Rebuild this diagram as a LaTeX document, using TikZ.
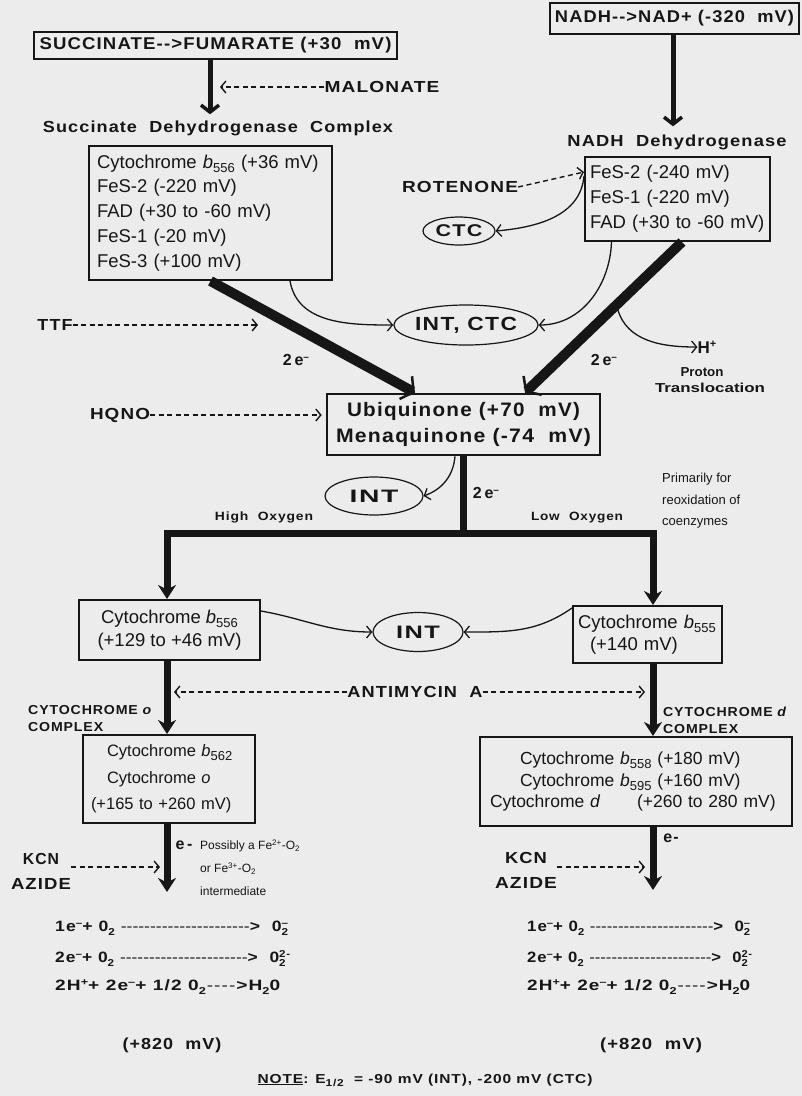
\documentclass[tikz,border=0pt]{standalone}
\usepackage{fontspec}
\usepackage{graphicx}
\setmainfont{Liberation Sans}
\newfontfamily\lsf{Liberation Sans}[LetterSpace=6]
\usetikzlibrary{arrows.meta,shapes.geometric,calc}
\definecolor{paper}{RGB}{236,236,236}
\definecolor{ink}{RGB}{22,22,22}
\newcommand\W[2]{\resizebox{#1pt}{\height}{#2}}
\newcommand\fs[1]{\fontsize{#1}{#1}\selectfont}
\newcommand\sbx[1]{\raisebox{-4pt}{\fontsize{13}{13}\selectfont #1}}
\newcommand\supm{\raisebox{5pt}{\fs{10}\textendash}}
\newcommand\lo[1]{\raisebox{-4pt}{\fs{10}#1}}
\newcommand\hi[1]{\raisebox{5pt}{\fs{10}#1}}
\newcommand\both[2]{\rlap{\raisebox{-4pt}{\fs{10}#1}}\raisebox{5pt}{\fs{10}#2}}
\newcommand\dl[1]{\makebox[#1pt]{\mdseries\xleaders\hbox{-}\hfill}}
\begin{document}
\begin{tikzpicture}[x=1pt,y=-1pt,
  every node/.style={text=ink, inner sep=0pt},
  cbox/.style={draw=ink, line width=2pt, inner sep=0pt, align=left},
  ell/.style={ellipse, draw=ink, line width=1.2pt, inner sep=0pt},
  dasharrow/.style={draw=ink, line width=1.4pt, dash pattern=on 5pt off 3.5pt, -{Straight Barb[length=5pt,width=12pt]}},
  carrow/.style={draw=ink, line width=1.3pt, -{Straight Barb[length=5pt,width=12pt]}},
  toparrow/.style={draw=ink, line width=5pt, -{Straight Barb[length=7pt,width=18pt,line width=3.5pt]}},
  fatarrow/.style={draw=ink, line width=10pt, -{Straight Barb[length=9pt,width=26pt,line width=2.5pt]}},
  medarrow/.style={draw=ink, line width=7pt, -{Stealth[length=14pt,width=18pt]}}
]
\fill[paper] (0,0) rectangle (802,1096);

% ---------- top ----------
\node[draw=ink, line width=1.4pt, minimum width=363pt, minimum height=27pt] (succ) at (215.5,45.5)
  {\W{352}{\lsf\bfseries\fs{17}SUCCINATE-{}->FUMARATE (+30 \ mV)}};
\node[draw=ink, line width=1.4pt, minimum width=249pt, minimum height=31pt] (nadhtop) at (674.5,18.5)
  {\W{239}{\lsf\bfseries\fs{17}NADH-{}->NAD+ (-320 \ mV)}};

\node (sdhlab) at (218,128) {\W{350}{\lsf\bfseries\fs{16}Succinate \ Dehydrogenase \ Complex}};
\node (nadhlab) at (677,142) {\W{219}{\lsf\bfseries\fs{16}NADH \ Dehydrogenase}};

\draw[toparrow] ([xshift=-5.5pt]succ.south) -- ([xshift=-8pt,yshift=6pt]sdhlab.north);
\draw[toparrow] ([xshift=-1.5pt]nadhtop.south) -- ([xshift=-4pt,yshift=8pt]nadhlab.north);

\node (malon) at (382,87) {\W{115}{\lsf\bfseries\fs{16}MALONATE}};
\coordinate (malt) at (220,87);
\draw[dasharrow] (malon.west) -- (malt);

\node[cbox, minimum width=243pt, minimum height=134pt, text width=227pt,
      font=\fontsize{18.5}{24.8}\selectfont] (sdh) at (210.5,213)
  {Cytochrome \textit{b}\sbx{556} (+36 mV)\\FeS-2 (-220 mV)\\FAD (+30 to -60 mV)\\FeS-1 (-20 mV)\\FeS-3 (+100 mV)};

\node[cbox, minimum width=185pt, minimum height=84pt, text width=175pt,
      font=\fontsize{18.5}{25}\selectfont] (nadh) at (677.5,199)
  {FeS-2 (-240 mV)\\FeS-1 (-220 mV)\\FAD (+30 to -60 mV)};

\node (rot) at (460,187) {\W{116}{\lsf\bfseries\fs{16}ROTENONE}};
\draw[dasharrow] (rot.east) -- ([yshift=-16pt]nadh.north west);

\node[ell, minimum width=72pt, minimum height=28pt] (ctc) at (459,231) {\W{47}{\lsf\bfseries\fs{17}CTC}};
\draw[carrow] ([yshift=-20pt]nadh.north west) to[out=-95,in=5] (ctc.east);

\node[ell, minimum width=122pt, minimum height=40pt] (ic) at (466,325) {\W{102}{\lsf\bfseries\fs{19}INT, CTC}};
\draw[carrow] ([xshift=79.5pt]sdh.south) to[out=-80,in=180] (ic.west);
\draw[carrow] ([xshift=-66pt]nadh.south) to[out=-92,in=0] (ic.east);

\node (ttf) at (55,325) {\W{35}{\lsf\bfseries\fs{16}TTF}};
\coordinate (ttft) at (258,325);
\draw[dasharrow] (ttf.east) -- (ttft);

% ---------- quinone ----------
\node[draw=ink, line width=2.6pt, minimum width=273pt, minimum height=61pt, align=center,
      font=\fontsize{19.5}{26}\selectfont] (ubi) at (463.5,424.5)
  {\W{233}{\lsf\bfseries\fs{19.5}Ubiquinone (+70 \ mV)}\\\W{255}{\lsf\bfseries\fs{19.5}Menaquinone (-74 \ mV)}};

\draw[fatarrow] (sdh.south) -- ([xshift=-48.5pt]ubi.north);
\draw[fatarrow] ([xshift=4.5pt]nadh.south) -- ([xshift=61.5pt]ubi.north);

\node (e1) at (296,360) {\lsf\bfseries\fs{16}2\,e\supm};
\node (e2) at (604,360) {\lsf\bfseries\fs{16}2\,e\supm};

\coordinate (hb) at ($([xshift=9pt]nadh.south)!0.44!([xshift=66pt]ubi.north)$);
\node (hp) at (707,347) {\lsf\bfseries\fs{17}H\raisebox{6pt}{\fs{11}+}};
\draw[carrow] (hb) to[out=-75,in=180] (hp.west);
\node (prot) at (702,372) {\W{43}{\bfseries\fs{13}Proton}};
\node (transl) at (710,388) {\W{110}{\bfseries\fs{13}Translocation}};

\node (hqno) at (120,415) {\W{60}{\lsf\bfseries\fs{16}HQNO}};
\draw[dasharrow] (hqno.east) -- ([xshift=-4pt,yshift=9.5pt]ubi.west);

% ---------- branch ----------
\node[cbox, minimum width=181pt, minimum height=60pt, align=center,
      font=\fontsize{18.5}{23}\selectfont] (cytb556) at (169.5,630)
  {Cytochrome \textit{b}\sbx{556}\\(+129 to +46 mV)};
\node[cbox, minimum width=149pt, minimum height=57pt, text width=139pt,
      font=\fontsize{18.5}{22}\selectfont] (cytb555) at (647.5,634.5)
  {Cytochrome \textit{b}\sbx{555}\\\hspace*{12pt}(+140 mV)};

\coordinate (barL) at (167,533);
\draw[medarrow] (ubi.south) -- (ubi.south |- barL) -| ([xshift=-2.5pt]cytb556.north);
\draw[medarrow] (ubi.south |- barL) -| ([xshift=5.5pt]cytb555.north);

\node[ell, minimum width=98pt, minimum height=38pt] (int1) at (374,496) {\W{49}{\lsf\bfseries\fs{18}INT}};
\draw[carrow] ([xshift=-8.5pt]ubi.south) to[out=-95,in=20] (int1.east);
\node (e3) at (486,493) {\lsf\bfseries\fs{16}2\,e\supm};

\node (hiox) at (264,517) {\W{98}{\lsf\bfseries\fs{12}High \ Oxygen}};
\node (loox) at (577,518) {\W{92}{\lsf\bfseries\fs{12}Low \ Oxygen}};
\node[anchor=west, align=left, font=\fontsize{13}{21.5}\selectfont] (prim) at (662,501)
  {Primarily for\\reoxidation of\\coenzymes};

\node[ell, minimum width=90pt, minimum height=39pt] (int2) at (418,632) {\W{44}{\lsf\bfseries\fs{18}INT}};
\draw[carrow] ([yshift=-12pt]cytb556.north east) to[out=-10,in=180] (int2.west);
\draw[carrow] ([yshift=-3pt]cytb555.north west) to[out=-145,in=0] (int2.east);

\node (anti) at (415,692) {\W{135}{\lsf\bfseries\fs{16}ANTIMYCIN \ A}};
\coordinate (antL) at (174,692);
\coordinate (antR) at (645,692);
\draw[dasharrow] (anti.west) -- (antL);
\draw[dasharrow] (anti.east) -- (antR);

\node[anchor=west, align=left, font=\lsf\bfseries\fontsize{13}{17}\selectfont] (colab) at (28,718.5)
  {\W{124}{CYTOCHROME \textit{o}}\\\W{75}{COMPLEX}};
\node[anchor=west, align=left, font=\lsf\bfseries\fontsize{13}{17}\selectfont] (cdlab) at (663,720)
  {\W{124}{CYTOCHROME \textit{d}}\\\W{75}{COMPLEX}};

% ---------- terminal oxidases ----------
\node[cbox, minimum width=172pt, minimum height=88pt, text width=156pt,
      font=\fontsize{16.5}{26.5}\selectfont] (cyto) at (169,779)
  {\hspace*{16pt}Cytochrome \textit{b}\sbx{562}\\\hspace*{16pt}Cytochrome \textit{o}\\(+165 to +260 mV)};
\node[cbox, minimum width=312pt, minimum height=89pt, text width=292pt,
      font=\fontsize{17.5}{21.5}\selectfont] (cytd) at (636,781.5)
  {\hspace*{30pt}Cytochrome \textit{b}\sbx{558} (+180 mV)\\\hspace*{30pt}Cytochrome \textit{b}\sbx{595} (+160 mV)\\\makebox[147pt][l]{Cytochrome \textit{d}}(+260 to 280 mV)};

\draw[medarrow] ([xshift=-2.5pt]cytb556.south) -- ([xshift=-2pt]cyto.north);
\draw[medarrow] ([xshift=5.5pt]cytb555.south) -- ([xshift=17pt]cytd.north);

\coordinate (tipL) at (167,892);
\coordinate (tipR) at (653,890);
\draw[medarrow] ([xshift=-2pt]cyto.south) -- (tipL);
\draw[medarrow] ([xshift=17pt]cytd.south) -- (tipR);

\node (eL) at (184,845) {\lsf\bfseries\fs{16}e\,-};
\node (eR) at (671,838) {\lsf\bfseries\fs{16}e-};
\node[anchor=west, align=left, font=\fontsize{12}{23}\selectfont] (poss) at (200,868)
  {Possibly a Fe\textsuperscript{2+}-O\textsubscript{2}\\or Fe\textsuperscript{3+}-O\textsubscript{2}\\intermediate};

\node[align=center, font=\lsf\bfseries\fontsize{16}{25}\selectfont] (kcnL) at (41,871) {\W{36}{KCN}\\\W{60}{AZIDE}};
\node[align=center, font=\lsf\bfseries\fontsize{16}{25}\selectfont] (kcnR) at (526,870) {\W{42}{KCN}\\\W{62}{AZIDE}};
\coordinate (kL) at (160,867);
\coordinate (kR) at (645,867);
\draw[dasharrow] ([yshift=4pt]kcnL.east) -- (kL);
\draw[dasharrow] ([yshift=3pt]kcnR.east) -- (kR);

% ---------- equations ----------
\node[anchor=west] (eqL1) at (55,928) {\W{233}{\lsf\bfseries\fs{15}1e\supm+ 0\lo{2} \dl{110}> \ 0\both{2}{\textendash}}};
\node[anchor=west] (eqL2) at (55,958) {\W{235}{\lsf\bfseries\fs{15}2e\supm+ 0\lo{2} \dl{110}> \ 0\both{2}{2-}}};
\node[anchor=west] (eqL3) at (55,987) {\W{225}{\lsf\bfseries\fs{15}2H\hi{+}+ 2e\supm+ 1/2 0\lo{2}\dl{24}>H\lo{2}0}};
\node[anchor=west] (eqR1) at (527,928) {\W{223}{\lsf\bfseries\fs{15}1e\supm+ 0\lo{2} \dl{110}> \ 0\both{2}{\textendash}}};
\node[anchor=west] (eqR2) at (527,958) {\W{225}{\lsf\bfseries\fs{15}2e\supm+ 0\lo{2} \dl{110}> \ 0\both{2}{2-}}};
\node[anchor=west] (eqR3) at (527,987) {\W{223}{\lsf\bfseries\fs{15}2H\hi{+}+ 2e\supm+ 1/2 0\lo{2}\dl{24}>H\lo{2}0}};

\node (mvL) at (172,1045) {\W{99}{\lsf\bfseries\fs{16}(+820 \ mV)}};
\node (mvR) at (651,1045) {\W{102}{\lsf\bfseries\fs{16}(+820 \ mV)}};

\node (note) at (425,1080) {\W{335}{\lsf\bfseries\fs{13}\underline{NOTE}: E\raisebox{-3pt}{\fs{10}1/2} \ = -90 mV (INT), -200 mV (CTC)}};
\end{tikzpicture}
\end{document}
